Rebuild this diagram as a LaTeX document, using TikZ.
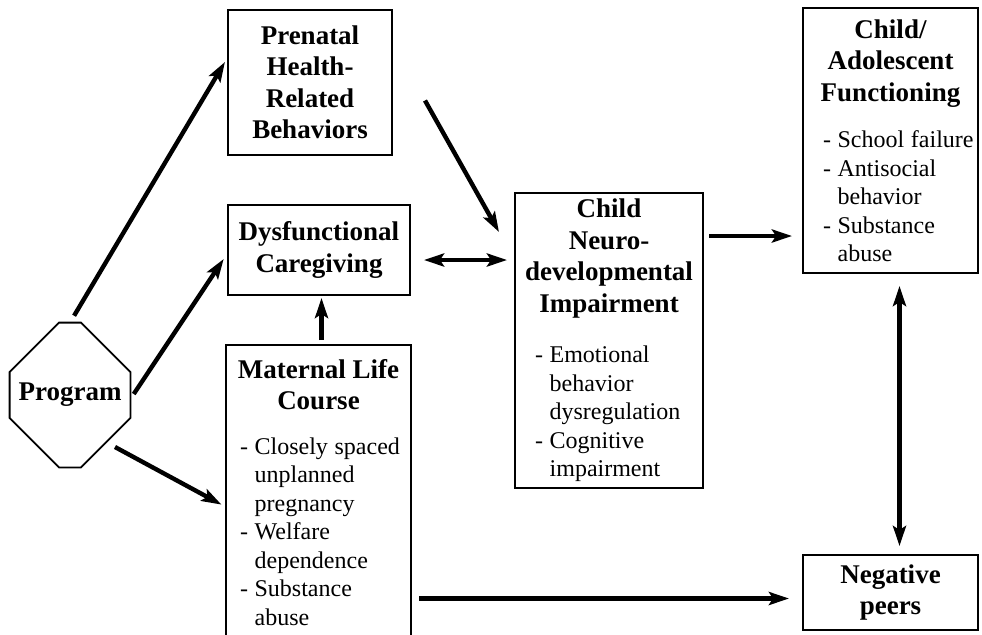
\documentclass[tikz,border=0pt]{standalone}
\usepackage{fontspec}
\setmainfont{Liberation Serif}
\usetikzlibrary{arrows.meta}

\newcommand{\boxhead}[1]{{\centering\bfseries\fontsize{13.5}{15.75}\selectfont #1\par}}
\newcommand{\boxlist}[3]{\vspace{#2}{\raggedright\leftskip=#1\fontsize{12}{14.25}\selectfont #3\par}}
\newcommand{\cont}{\leavevmode\phantom{- }}

\begin{document}
\begin{tikzpicture}[x=0.5pt, y=-0.5pt,
    box/.style={draw, line width=1pt, inner ysep=0pt},
    octo/.style={draw, line width=0.9pt, line join=miter},
    arrow/.style={line width=2.2pt, -{Stealth[length=10pt, width=6.5pt, inset=2pt]}},
    twoway/.style={line width=2.2pt, {Stealth[length=10pt, width=6.5pt, inset=2pt]}-{Stealth[length=10pt, width=6.5pt, inset=2pt]}}]
  \useasboundingbox (0,0) rectangle (982,634);

  % Define nodes
  \node[minimum width=60pt, minimum height=72pt, inner sep=0pt,
    font=\bfseries\fontsize{13.5}{15.75}\selectfont] (program) at (70,395) {Program};
  \node[box, text width=76pt, inner xsep=3pt, minimum height=72.5pt] (prenatal) at (310,82.5)
    {\boxhead{Prenatal\\Health-\\Related\\Behaviors}};
  \node[box, text width=85pt, inner xsep=3pt, minimum height=45pt] (dysf) at (319,250)
    {\boxhead{Dysfunctional\\Caregiving}};
  \node[box, text width=86pt, inner xsep=3.25pt, minimum height=147.5pt] (maternal) at (318.5,492.5)
    {\boxhead{Maternal Life\\Course}%
     \boxlist{3.75pt}{8pt}{- Closely spaced\\\cont unplanned\\\cont pregnancy\\- Welfare\\\cont dependence\\- Substance\\\cont abuse}};
  \node[box, text width=86pt, inner xsep=4pt, minimum height=147.5pt] (neuro) at (609,340.5)
    {\boxhead{Child\\Neuro-\\developmental\\Impairment}%
     \boxlist{6pt}{11pt}{- Emotional\\\cont behavior\\\cont dysregulation\\- Cognitive\\\cont impairment}};
  \node[box, text width=84pt, inner xsep=1.75pt, minimum height=132.5pt] (childadol) at (890.5,140.5)
    {\boxhead{Child/\\Adolescent\\Functioning}%
     \boxlist{8.25pt}{9pt}{- School failure\\- Antisocial\\\cont behavior\\- Substance\\\cont abuse}};
  \node[box, text width=80pt, inner xsep=3.75pt, minimum height=37.5pt] (peers) at (890.5,592.5)
    {\boxhead{Negative\\peers}};

  % Octagon round the program
  \draw[octo] ([xshift=-5.5pt]program.north) -- ([xshift=5.5pt]program.north)
    -- ([yshift=11.5pt]program.east) -- ([yshift=-11.5pt]program.east)
    -- ([xshift=5.5pt]program.south) -- ([xshift=-5.5pt]program.south)
    -- ([yshift=-11.5pt]program.west) -- ([yshift=11.5pt]program.west) -- cycle;

  % Draw edges
  \draw[arrow, shorten <=4pt, shorten >=2pt] (program.north) -- ([yshift=12pt]prenatal.west);
  \draw[arrow, shorten <=3pt, shorten >=3pt] ([yshift=-2pt]program.east) -- ([yshift=-2pt]dysf.west);
  \draw[arrow, shorten >=2pt] ([xshift=22.5pt,yshift=-26pt]program.center) -- ([yshift=-7pt]maternal.west);
  \draw[arrow, shorten <=2pt, shorten >=1pt] ([xshift=1.5pt]maternal.north) -- ([xshift=1.5pt]maternal.north |- dysf.south);
  \draw[arrow] ([xshift=16pt,yshift=-9pt]prenatal.east) -- ([xshift=-7.5pt,yshift=-20pt]neuro.north west);
  \draw[twoway, shorten <=6.5pt, shorten >=3.5pt] ([yshift=-5pt]dysf.east) -- ([yshift=-5pt]dysf.east -| neuro.west);
  \draw[arrow, shorten <=2.5pt, shorten >=5pt] ([yshift=-22pt]neuro.north east) -- ([yshift=-22pt]neuro.north east -| childadol.west);
  \draw[arrow, shorten <=3.5pt, shorten >=6.5pt] ([yshift=-3pt]maternal.east |- peers.west) -- ([yshift=-3pt]peers.west);
  \draw[twoway, shorten <=6pt, shorten >=4pt] ([xshift=4.5pt]childadol.south) -- ([xshift=4.5pt]peers.north);
\end{tikzpicture}
\end{document}
